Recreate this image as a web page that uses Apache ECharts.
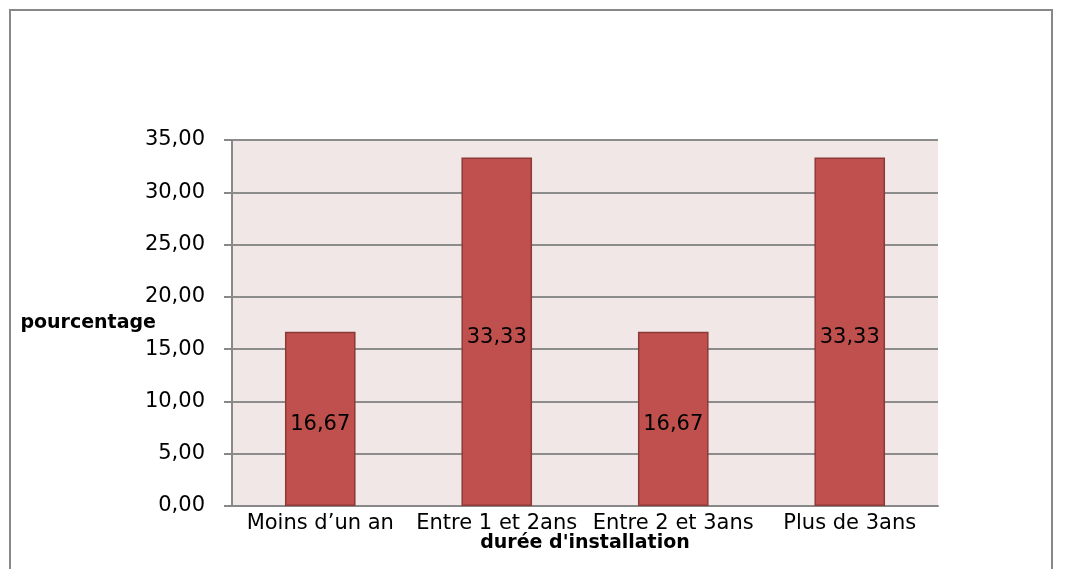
<!DOCTYPE html>
<html>
<head>
<meta charset="utf-8">
<script src="https://cdn.jsdelivr.net/npm/echarts@6/dist/echarts.min.js"></script>
<style>
  html, body { margin: 0; padding: 0; background: #fff; }
  #chart { width: 1067px; height: 569px; }
</style>
</head>
<body>
<div id="chart"></div>
<script>
// Durée d'installation – répartition en pourcentage
const categories = ['Moins d\u2019un an', 'Entre 1 et 2ans', 'Entre 2 et 3ans', 'Plus de 3ans'];
const percentages = [16.67, 33.33, 16.67, 33.33];
const yTicks = { min: 0, max: 35, interval: 5 };

const fmt = v => v.toFixed(2).replace('.', ',');
const FONT = '"DejaVu Sans", sans-serif';

const chart = echarts.init(document.getElementById('chart'), null, { renderer: 'canvas' });
chart.setOption({
  animation: false,
  backgroundColor: '#ffffff',
  graphic: [{
    type: 'rect',
    shape: { x: 10, y: 10, width: 1042, height: 580 },
    style: { fill: 'none', stroke: '#888888', lineWidth: 2 },
    silent: true
  }],
  grid: {
    left: 232, right: 129, top: 140, bottom: 63,
    containLabel: false,
    outerBoundsMode: 'none',
    show: true, backgroundColor: '#F2E7E7', borderWidth: 0
  },
  xAxis: {
    type: 'category',
    data: categories,
    name: 'durée d\'installation',
    nameLocation: 'middle',
    nameGap: 28,
    nameMoveOverlap: false,
    nameTextStyle: { fontFamily: FONT, fontWeight: 'bold', fontSize: 19, color: '#000' },
    axisLine: { lineStyle: { color: '#888888', width: 2 } },
    axisTick: { show: false },
    axisLabel: { fontFamily: FONT, fontSize: 21, color: '#000', margin: 7, interval: 0 }
  },
  yAxis: {
    type: 'value',
    min: yTicks.min, max: yTicks.max, interval: yTicks.interval,
    name: 'pourcentage',
    nameLocation: 'middle',
    nameRotate: 0,
    nameGap: 76,
    nameMoveOverlap: false,
    nameTextStyle: { fontFamily: FONT, fontWeight: 'bold', fontSize: 19, color: '#000' },
    axisLine: { show: true, lineStyle: { color: '#888888', width: 2 } },
    axisTick: { show: true, length: 8, lineStyle: { color: '#888888', width: 2 } },
    splitLine: { lineStyle: { color: '#8c8c8c', width: 2 } },
    axisLabel: { fontFamily: FONT, fontSize: 21, color: '#000', margin: 27, formatter: v => fmt(v) }
  },
  series: [{
    type: 'bar',
    data: percentages,
    barWidth: '40%',
    itemStyle: { color: '#C0504D', borderColor: '#8C3A38', borderWidth: 1.5 },
    label: {
      show: true, position: 'inside', offset: [0, 6],
      fontFamily: FONT, fontSize: 21, color: '#000',
      formatter: p => fmt(p.value)
    }
  }]
});
</script>
</body>
</html>
